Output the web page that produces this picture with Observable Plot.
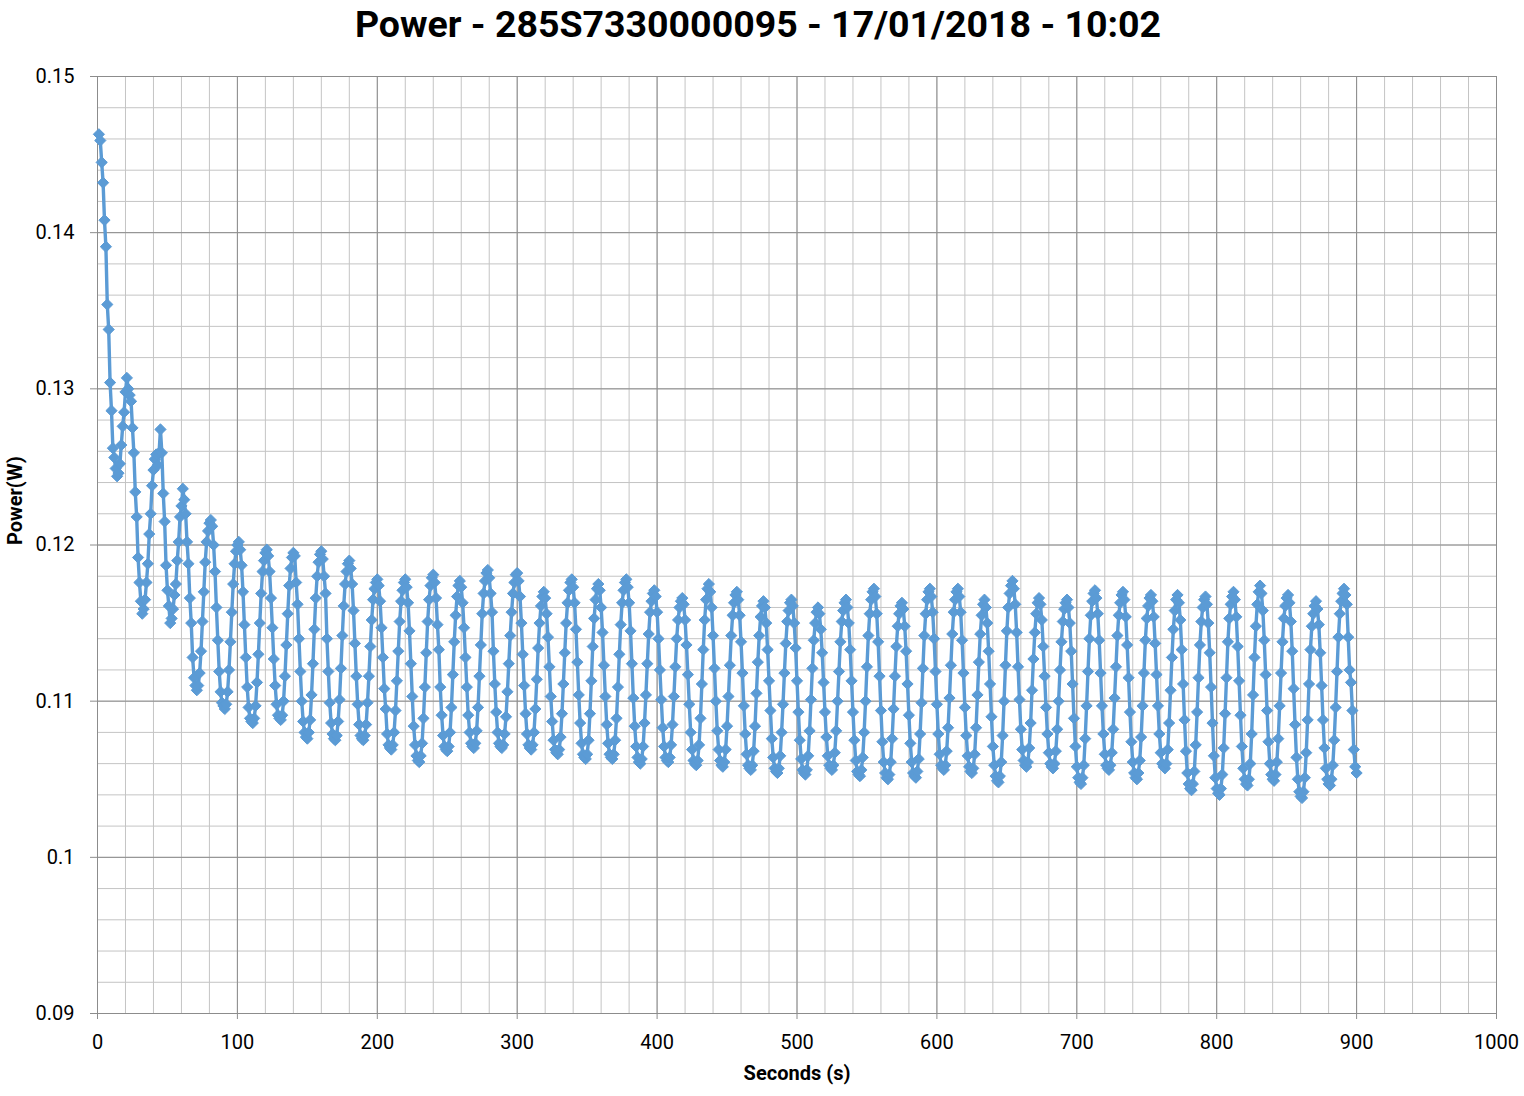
<!DOCTYPE html>
<html>
<head>
<meta charset="utf-8">
<script src="https://cdn.jsdelivr.net/npm/d3@7"></script>
<script src="https://cdn.jsdelivr.net/npm/@observablehq/plot@0.6"></script>
<style>
  html, body { margin: 0; padding: 0; background: #fff; }
  #wrap { width: 1524px; height: 1096px; position: relative; overflow: hidden; background: #fff; }
  #title { height: 50px; line-height: 48px; text-align: center; font-family: Roboto, sans-serif; font-weight: bold;
           font-size: 37.5px; color: #000; padding-right: 8px; white-space: nowrap; }
</style>
</head>
<body>
<div id="wrap">
  <div id="title"></div>
  <div id="chart"></div>
</div>
<script>
const chartTitle = "Power - 285S7330000095 - 17/01/2018 - 10:02";
const xAxisTitle = "Seconds (s)";
const yAxisTitle = "Power(W)";
const xTicks = [0, 100, 200, 300, 400, 500, 600, 700, 800, 900, 1000];
const yTicks = [0.09, 0.1, 0.11, 0.12, 0.13, 0.14, 0.15];
const firstSampleSecond = 1;
const sampleStepSeconds = 1;
// Power readings in mW, one per second
const powerMilliwatts = [
  146.3,145.9,144.5,143.2,140.8,139.1,135.4,133.8,130.4,128.6,126.2,125.6,124.9,124.4,124.6,125.2,126.4,127.6,128.5,129.8,130.7,
  130.0,129.6,129.2,127.5,125.9,123.4,121.8,119.2,117.6,116.4,115.6,115.9,116.5,117.6,118.8,120.7,122.0,123.8,124.8,125.5,125.8,125.1,125.9,127.4,
  125.9,123.3,121.5,118.7,117.1,116.1,115.0,115.3,115.9,116.8,117.5,119.0,120.2,121.8,122.5,123.6,
  122.9,122.0,120.2,118.8,116.6,115.0,112.8,111.5,111.0,110.7,111.0,111.8,113.2,115.1,117.0,118.9,120.2,120.9,121.4,121.6,
  121.2,120.0,118.3,116.0,113.9,111.9,110.6,109.9,109.7,109.5,109.8,110.6,112.0,113.8,115.7,117.5,118.8,119.6,120.0,120.2,
  119.7,118.7,117.0,114.9,112.8,110.9,109.6,108.9,108.7,108.6,108.9,109.7,111.2,113.0,115.0,116.9,118.3,119.0,119.5,119.7,
  119.3,118.3,116.6,114.7,112.7,111.0,109.8,109.1,108.9,108.8,109.1,110.0,111.6,113.6,115.6,117.4,118.5,119.2,119.5,
  119.3,117.6,116.2,114.0,111.9,110.0,108.7,108.0,107.7,107.6,108.0,108.8,110.4,112.4,114.6,116.6,118.0,118.9,119.4,119.6,
  119.1,118.0,116.9,114.0,111.9,109.9,108.6,107.9,107.6,107.5,107.8,108.7,110.1,112.1,114.2,116.1,117.5,118.3,118.8,119.0,
  118.5,117.5,115.8,113.7,111.6,109.8,108.5,107.8,107.6,107.5,107.8,108.5,109.9,111.6,113.5,115.2,116.5,117.2,117.6,117.8,
  117.4,116.4,114.7,112.8,110.8,109.5,107.9,107.2,107.0,106.9,107.2,108.0,109.4,111.3,113.2,115.1,116.4,117.1,117.6,117.8,
  117.3,116.3,114.5,112.4,110.3,108.4,107.2,106.5,106.2,106.1,106.5,107.3,108.9,110.9,113.1,115.1,116.5,117.4,117.9,118.1,
  117.6,116.6,114.9,113.3,110.9,109.1,107.8,107.1,106.9,106.8,107.1,108.0,109.6,111.7,113.8,115.5,116.7,117.4,117.7,
  117.3,116.3,114.7,112.8,110.9,109.1,108.0,107.3,107.1,107.0,107.3,108.1,109.6,111.6,113.6,115.6,116.9,117.7,118.2,118.4,
  117.9,116.9,115.7,113.2,111.1,109.3,108.0,107.3,107.1,107.0,107.2,107.9,109.0,110.6,112.4,114.2,115.7,116.9,117.6,118.1,118.2,
  117.7,116.7,115.0,113.0,111.0,109.2,107.9,107.2,107.0,106.9,107.2,108.0,109.5,111.4,113.4,115.0,116.1,116.7,117.0,
  116.6,115.6,114.1,112.2,110.3,108.7,107.5,106.9,106.7,106.6,106.9,107.7,109.2,111.1,113.1,115.0,116.3,117.1,117.6,117.8,
  117.3,116.3,114.6,112.5,110.4,108.6,107.3,106.6,106.4,106.3,106.6,107.5,109.2,111.3,113.5,115.3,116.5,117.2,117.5,
  117.1,116.0,114.4,112.3,110.3,108.5,107.3,106.6,106.4,106.3,106.6,107.5,108.9,110.9,113.0,114.9,116.3,117.1,117.6,117.8,
  117.3,116.3,114.5,112.4,110.2,108.4,107.1,106.4,106.1,106.0,106.3,107.1,108.6,110.4,112.4,114.3,115.7,116.4,116.9,117.1,
  116.7,115.7,114.0,112.0,110.1,108.3,107.1,106.4,106.2,106.1,106.4,107.2,108.5,110.3,112.2,114.0,115.2,116.0,116.4,116.6,
  116.2,115.2,113.6,111.7,109.8,108.0,106.9,106.2,106.0,105.9,106.2,107.2,108.9,111.1,113.3,115.2,116.5,117.2,117.5,
  117.0,116.0,114.2,112.1,110.0,108.1,106.9,106.2,105.9,105.8,106.1,106.9,108.4,110.3,112.3,114.2,115.5,116.3,116.8,117.0,
  116.5,115.5,113.8,111.8,109.7,107.9,106.6,105.9,105.7,105.6,105.9,106.8,108.4,110.5,112.5,114.2,115.4,116.1,116.4,
  116.0,115.0,113.3,111.3,109.4,107.6,106.4,105.7,105.5,105.4,105.7,106.5,108.0,109.8,111.8,113.7,115.1,115.8,116.3,116.5,
  116.1,115.0,113.4,111.3,109.3,107.5,106.3,105.6,105.4,105.3,105.6,106.5,108.1,110.1,112.1,113.9,115.0,115.7,116.0,
  115.6,114.6,113.1,111.2,109.3,107.7,106.5,105.9,105.7,105.6,105.9,106.7,108.1,110.0,111.9,113.8,115.1,115.8,116.3,116.5,
  116.0,115.0,113.3,111.3,109.3,107.5,106.2,105.5,105.3,105.2,105.6,106.4,108.0,110.0,112.2,114.2,115.6,116.5,117.0,117.2,
  116.7,115.6,113.8,111.6,109.4,107.4,106.1,105.4,105.1,105.0,105.3,106.1,107.6,109.5,111.6,113.5,114.8,115.6,116.1,116.3,
  115.9,114.8,113.2,111.1,109.1,107.3,106.1,105.4,105.2,105.1,105.5,106.3,107.9,109.9,112.1,114.2,115.6,116.5,117.0,117.2,
  116.7,115.7,114.0,111.9,109.8,107.9,106.6,105.9,105.7,105.6,105.9,106.8,108.3,110.2,112.3,114.3,115.7,116.5,117.0,117.2,
  116.7,115.7,113.9,111.8,109.6,107.8,106.5,105.8,105.5,105.4,105.7,106.6,108.3,110.4,112.5,114.3,115.5,116.2,116.5,
  116.0,115.0,113.2,111.1,109.0,107.1,105.9,105.2,104.9,104.8,105.2,106.1,107.8,110.0,112.3,114.5,116.0,116.9,117.4,117.7,
  117.2,116.2,114.4,112.2,110.1,108.2,106.9,106.2,105.9,105.8,106.1,107.0,108.6,110.7,112.7,114.4,115.6,116.3,116.6,
  116.2,115.2,113.5,111.6,109.6,107.9,106.7,106.0,105.8,105.7,106.0,106.8,108.2,110.0,112.0,113.8,115.1,115.9,116.3,116.5,
  116.0,115.0,113.2,111.1,108.9,107.1,105.8,105.1,104.8,104.7,105.1,105.9,107.6,109.7,111.9,114.0,115.5,116.4,116.9,117.1,
  116.6,115.6,113.9,111.8,109.7,107.9,106.6,105.9,105.7,105.6,105.9,106.7,108.2,110.2,112.2,114.2,115.5,116.3,116.8,117.0,
  116.5,115.4,113.6,111.5,109.3,107.4,106.1,105.4,105.1,105.0,105.4,106.2,107.7,109.7,111.8,113.9,115.3,116.1,116.6,116.8,
  116.4,115.4,113.7,111.7,109.7,107.9,106.7,106.0,105.8,105.7,106.0,106.9,108.6,110.7,112.8,114.6,115.8,116.5,116.8,
  116.3,115.2,113.3,111.1,108.8,106.8,105.4,104.7,104.4,104.3,104.7,105.5,107.2,109.3,111.5,113.6,115.1,116.0,116.5,116.7,
  116.2,115.0,113.1,110.9,108.6,106.5,105.1,104.4,104.1,104.0,104.4,105.3,107.0,109.2,111.5,113.8,115.3,116.2,116.7,117.0,
  116.5,115.4,113.5,111.3,109.1,107.1,105.7,105.0,104.7,104.6,105.0,106.0,107.9,110.4,112.8,114.8,116.2,117.0,117.4,
  116.9,115.8,113.9,111.7,109.4,107.4,106.0,105.3,105.0,104.9,105.3,106.1,107.6,109.7,111.8,113.8,115.3,116.1,116.6,116.8,
  116.3,115.1,113.2,110.8,108.5,106.4,105.0,104.2,103.9,103.8,104.2,105.1,106.7,108.8,111.1,113.3,114.8,115.6,116.1,116.4,
  115.9,114.9,113.1,111.0,108.8,107.0,105.7,105.0,104.7,104.6,105.0,105.9,107.5,109.6,111.9,114.1,115.6,116.4,116.9,117.2,
  116.8,116.2,114.1,112.0,111.2,109.4,106.9,105.8,105.4
];

const data = powerMilliwatts.map((mw, i) => ({
  seconds: firstSampleSecond + i * sampleStepSeconds,
  power: mw / 1000
}));

const xMinorGrid = d3.range(0, 1001, 20);
const yMinorGrid = d3.range(45, 76).map(k => k / 500);

const diamond = {
  draw(context, size) {
    const h = Math.sqrt(size / Math.PI);
    context.moveTo(0, -h);
    context.lineTo(h, 0);
    context.lineTo(0, h);
    context.lineTo(-h, 0);
    context.closePath();
  }
};

document.getElementById("title").textContent = chartTitle;

const lineColor = "#5B9BD5";
const chart = Plot.plot({
  width: 1524,
  height: 1046,
  marginTop: 26,
  marginRight: 28,
  marginBottom: 83,
  marginLeft: 97,
  style: { fontFamily: "Roboto, sans-serif", fontSize: "20px", color: "#000", background: "#fff", overflow: "visible" },
  x: { domain: [0, 1000] },
  y: { domain: [0.09, 0.15] },
  marks: [
    Plot.ruleX(xMinorGrid, { stroke: "#c4c4c4", strokeWidth: 1 }),
    Plot.ruleY(yMinorGrid, { stroke: "#c4c4c4", strokeWidth: 1 }),
    Plot.ruleX(xTicks, { stroke: "#8c8c8c", strokeWidth: 1 }),
    Plot.ruleY(yTicks, { stroke: "#8c8c8c", strokeWidth: 1 }),
    Plot.axisX({ ticks: xTicks, tickSize: 6, tickPadding: 15, stroke: "#8c8c8c", fontSize: 20, label: null, tickFormat: d => String(d) }),
    Plot.axisY({ ticks: yTicks, tickSize: 7, tickPadding: 16, stroke: "#8c8c8c", fontSize: 20, label: null, tickFormat: d => String(d) }),
    Plot.line(data, { x: "seconds", y: "power", stroke: lineColor, strokeWidth: 3.4, strokeLinejoin: "round" }),
    Plot.dot(data, { x: "seconds", y: "power", symbol: diamond, r: 5.6, fill: lineColor, stroke: lineColor, strokeWidth: 1 }),
    Plot.text([yAxisTitle], { text: d => d, frameAnchor: "left", dx: -82, rotate: -90, fontWeight: "bold", fontSize: 20 }),
    Plot.text([xAxisTitle], { text: d => d, frameAnchor: "bottom", dy: 66, fontWeight: "bold", fontSize: 20 })
  ]
});
document.getElementById("chart").appendChild(chart);
</script>
</body>
</html>
